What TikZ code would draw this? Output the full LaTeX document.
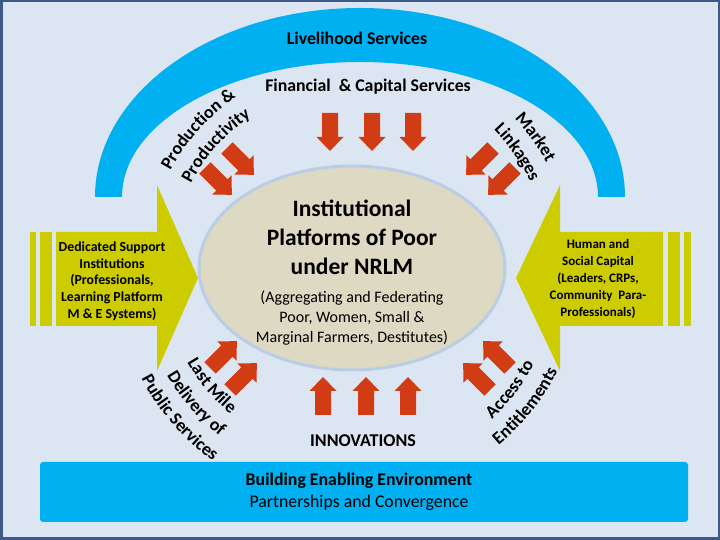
\documentclass[tikz,border=0pt]{standalone}
\usepackage{fontspec}
\setmainfont{Carlito}
\usetikzlibrary{decorations.text}
\definecolor{bgc}{RGB}{220,230,242}
\definecolor{framec}{RGB}{60,90,135}
\definecolor{archc}{RGB}{0,176,240}
\definecolor{redc}{RGB}{210,60,20}
\definecolor{yelc}{RGB}{204,204,0}
\definecolor{beigec}{RGB}{221,217,195}
\definecolor{ellc}{RGB}{185,205,229}
\begin{document}
\begin{tikzpicture}[x=1pt,y=1pt,
  redarrow/.pic={\fill[redc] (0,-8) -- (24,-8) -- (24,-13.5) -- (38,0) -- (24,13.5) -- (24,8) -- (0,8) -- cycle;},
  lbl/.style={font=\bfseries\fontsize{17.8}{21}\selectfont, align=center, text=black},
]
\path[use as bounding box] (0,0) rectangle (720,540);
\fill[bgc] (0,0) rectangle (720,540);
\draw[framec, line width=2.5] (1.25,1.25) rectangle (718.75,538.75);
\coordinate (c) at (352,272);
% arch
\fill[archc] (95,343) arc[start angle=180, end angle=0, x radius=265, y radius=189]
  -- (598,343) arc[start angle=0, end angle=180, x radius=238, y radius=135] -- cycle;
% yellow arrows
\fill[yelc] (56,214) -- (157,214) -- (157,169) -- (198,262) -- (157,355) -- (157,308) -- (56,308) -- cycle;
\fill[yelc] (30,214) rectangle (36,308);
\fill[yelc] (40,214) rectangle (52,308);
\fill[yelc] (663,214) -- (560,214) -- (560,169) -- (516,262) -- (560,355) -- (560,308) -- (663,308) -- cycle;
\fill[yelc] (668,214) rectangle (680,308);
\fill[yelc] (684,214) rectangle (691,308);
% ellipse
\draw[ellc, line width=3, fill=beigec] (c) ellipse[x radius=153, y radius=102];
% bottom box
\fill[archc, rounded corners=3] (40,18) rectangle (688,78);
% red arrows
\foreach \xx in {330,372,413} {\pic[rotate=-90] at (\xx,427) {redarrow};}
\foreach \xx in {323,366,408} {\pic[rotate=90] at (\xx,125) {redarrow};}
\pic[rotate=-45] at (227,392) {redarrow};
\pic[rotate=-45] at (205,372) {redarrow};
\pic[rotate=-135] at (493,392) {redarrow};
\pic[rotate=-135] at (515,372) {redarrow};
\pic[rotate=45] at (230,150) {redarrow};
\pic[rotate=45] at (210,172) {redarrow};
\pic[rotate=135] at (490,150) {redarrow};
\pic[rotate=135] at (510,172) {redarrow};
% texts
\node[lbl] (live) at (357,502) {Livelihood Services};
\node[lbl] (fin) at (368,453) {Financial \ \& Capital Services};
\node[font=\bfseries\fontsize{23.5}{29}\selectfont, align=center] (title) at (352,303) {Institutional\\Platforms of Poor\\under NRLM};
\node[font=\fontsize{16}{20}\selectfont, align=center] (sub) at (352,222) {(Aggregating and Federating\\Poor, Women, Small \&\\Marginal Farmers, Destitutes)};
\node[font=\bfseries\fontsize{13.8}{16.7}\selectfont, align=center] (dsi) at (112,259) {Dedicated Support\\Institutions\\(Professionals,\\Learning Platform\\M \& E Systems)};
\node[font=\bfseries\fontsize{13}{17}\selectfont, align=center] (hsc) at (598,261) {Human and\\Social Capital\\(Leaders, CRPs,\\Community \ Para-\\Professionals)};
\node[lbl, font=\bfseries\fontsize{18}{21}\selectfont] (inno) at (363,99) {INNOVATIONS};
\node[font=\bfseries\fontsize{17.8}{22}\selectfont] (bee) at (359,59) {Building Enabling Environment};
\node[font=\fontsize{17.8}{22}\selectfont] (pc) at (359,37) {Partnerships and Convergence};
% curved texts
\path[decorate, decoration={text along path, text align=center, text={|\bfseries\fontsize{18}{21}\selectfont|Production {\&}}}]
  ([shift={(175:206)}]c) arc[start angle=175, end angle=101, radius=206];
\path[decorate, decoration={text along path, text align=center, text={|\bfseries\fontsize{18}{21}\selectfont|Productivity}}]
  ([shift={(175:182)}]c) arc[start angle=175, end angle=101, radius=182];
\path[decorate, decoration={text along path, text align=center, text={|\bfseries\fontsize{18}{21}\selectfont|Market}}]
  ([shift={(65:221)}]c) arc[start angle=65, end angle=6, radius=221];
\path[decorate, decoration={text along path, text align=center, text={|\bfseries\fontsize{18}{21}\selectfont|Linkages}}]
  ([shift={(65:198)}]c) arc[start angle=65, end angle=5, radius=198];
\path[decorate, decoration={text along path, text align=center, text={|\bfseries\fontsize{18}{21}\selectfont|Last Mile}}]
  ([shift={(188:190)}]c) arc[start angle=188, end angle=252, radius=190];
\path[decorate, decoration={text along path, text align=center, text={|\bfseries\fontsize{18}{21}\selectfont|Delivery  of}}]
  ([shift={(188:214)}]c) arc[start angle=188, end angle=254, radius=214];
\path[decorate, decoration={text along path, text align=center, text={|\bfseries\fontsize{18}{21}\selectfont|Public Services}}]
  ([shift={(188:238)}]c) arc[start angle=188, end angle=254, radius=238];
\path[decorate, decoration={text along path, text align=center, text={|\bfseries\fontsize{18}{21}\selectfont|Access to}}]
  ([shift={(290:206)}]c) arc[start angle=290, end angle=355, radius=206];
\path[decorate, decoration={text along path, text align=center, text={|\bfseries\fontsize{18}{21}\selectfont|Entitlements}}]
  ([shift={(288:230)}]c) arc[start angle=288, end angle=355, radius=230];
\end{tikzpicture}
\end{document}
